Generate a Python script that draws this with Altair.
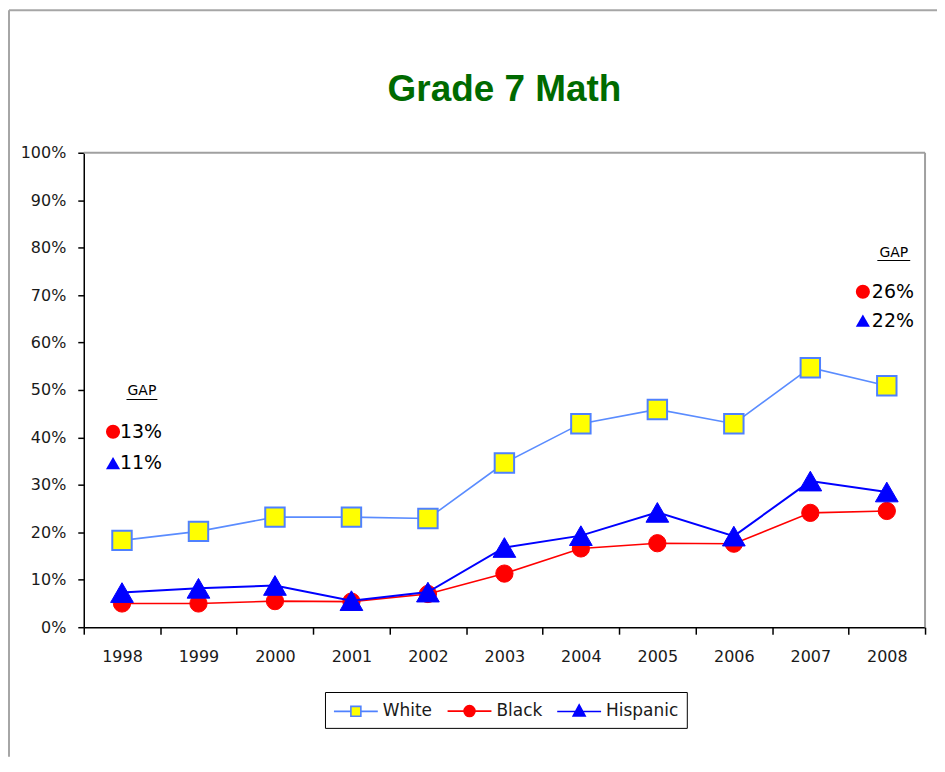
import altair as alt
import pandas as pd

# ---- data ----
years = ["1998", "1999", "2000", "2001", "2002", "2003", "2004", "2005", "2006", "2007", "2008"]
white = [18.3, 20.2, 23.2, 23.2, 22.9, 34.6, 42.9, 45.9, 42.9, 54.7, 50.9]
black = [5.0, 5.0, 5.5, 5.4, 7.0, 11.3, 16.6, 17.7, 17.6, 24.1, 24.5]
hispanic = [7.3, 8.2, 8.8, 5.6, 7.4, 16.8, 19.3, 24.2, 19.2, 30.8, 28.5]
series_names = ["White", "Black", "Hispanic"]
y_ticks = list(range(0, 101, 10))

# GAP annotations (text and the level, in % units, where each sits)
gap_years = ["1998", "2008"]
gap_black = ["13%", "26%"]
gap_hispanic = ["11%", "22%"]
gap_header_level = [49.7, 78.9]
gap_underline_level = [48.0, 77.3]
gap_black_level = [41.2, 70.7]
gap_hispanic_level = [34.6, 64.6]

# ---- styles ----
W, H = 844, 476
FONT = "DejaVu Sans"
line_color = {"White": "#5a8cff", "Black": "#ff0000", "Hispanic": "#0000ff"}
line_width = {"White": 1.6, "Black": 1.6, "Hispanic": 2.0}
marker_shape = {"White": "square", "Black": "circle", "Hispanic": "triangle-up"}
marker_size = {"White": 380, "Black": 300, "Hispanic": 520}
marker_fill = {"White": "#ffff00", "Black": "#ff0000", "Hispanic": "#0000ff"}
marker_stroke = {"White": "#4f81ff", "Black": "#ff0000", "Hispanic": "#0000ff"}
legend_paths = [
    "M-2.2,0H-0.5M0.5,0H2.2M-0.5,-0.5H0.5V0.5H-0.5Z",
    "M-2.2,0H2.2M-0.55,0A0.55,0.55 0 1,0 0.55,0A0.55,0.55 0 1,0 -0.55,0Z",
    "M-2.2,0H2.2M0,-0.65L0.6,0.45L-0.6,0.45Z",
]

values = {"White": white, "Black": black, "Hispanic": hispanic}
df = pd.DataFrame(
    [{"year": y, "series": s, "value": v} for s in series_names for y, v in zip(years, values[s])]
)

x_enc = alt.X(
    "year:N",
    sort=years,
    scale=alt.Scale(type="band", domain=years, paddingInner=0, paddingOuter=0),
    axis=alt.Axis(
        title=None, labelAngle=0, tickBand="extent", tickSize=7, tickColor="black",
        domainColor="black", domainWidth=1.5, tickWidth=1.5, grid=False,
        labelFont=FONT, labelFontSize=16, labelColor="#1a1a1a", labelPadding=14,
    ),
)
y_enc = alt.Y(
    "value:Q",
    scale=alt.Scale(domain=[0, 100], nice=False),
    axis=alt.Axis(
        title=None, values=y_ticks, labelExpr="datum.value + '%'", tickSize=6,
        tickColor="black", domainColor="black", domainWidth=1.5, tickWidth=1.5,
        grid=False, labelFont=FONT, labelFontSize=16, labelColor="#1a1a1a", labelPadding=12,
    ),
)

one = pd.DataFrame({"k": [0]})
layers = []

# plot-area border (top and right) in grey
layers.append(alt.Chart(one).mark_rule(color="#a0a0a0", strokeWidth=2).encode(
    x=alt.value(0), x2=alt.value(W), y=alt.value(0)))
layers.append(alt.Chart(one).mark_rule(color="#a0a0a0", strokeWidth=2).encode(
    x=alt.value(W), y=alt.value(0), y2=alt.value(H)))
# outer chart frame (top and left)
layers.append(alt.Chart(one).mark_rule(color="#a6a6a6", strokeWidth=2).encode(
    x=alt.value(-75), x2=alt.value(W + 12), y=alt.value(-143)))
layers.append(alt.Chart(one).mark_rule(color="#a6a6a6", strokeWidth=2).encode(
    x=alt.value(-75), y=alt.value(-143), y2=alt.value(H + 130)))

for s in series_names:
    sub = df[df["series"] == s]
    layers.append(alt.Chart(sub).mark_line(color=line_color[s], strokeWidth=line_width[s]).encode(
        x=x_enc, y=y_enc))
    layers.append(alt.Chart(sub).mark_point(
        shape=marker_shape[s], size=marker_size[s], filled=True, fill=marker_fill[s],
        stroke=marker_stroke[s], strokeWidth=2 if s == "White" else 1, opacity=1,
    ).encode(x=x_enc, y=y_enc))

# GAP annotations
side_offsets = [
    {"dot": -9, "text": -2, "head": 20, "line_len": 31},
    {"dot": -24, "text": -15, "head": 7, "line_len": 33},
]
for i, yr in enumerate(gap_years):
    off = side_offsets[i]
    head = pd.DataFrame({"year": [yr], "value": [gap_header_level[i]], "label": ["GAP"]})
    uline = pd.DataFrame({"year": [yr], "value": [gap_underline_level[i]]})
    bdot = pd.DataFrame({"year": [yr], "value": [gap_black_level[i]], "label": [gap_black[i]]})
    hdot = pd.DataFrame({"year": [yr], "value": [gap_hispanic_level[i]], "label": [gap_hispanic[i]]})
    layers.append(alt.Chart(head).mark_text(
        font=FONT, fontSize=14, color="black", align="center", baseline="middle", dx=off["head"],
    ).encode(x=x_enc, y=y_enc, text="label:N"))
    layers.append(alt.Chart(uline).mark_tick(
        orient="horizontal", size=off["line_len"], thickness=1, color="black", opacity=1,
        xOffset=off["head"],
    ).encode(x=x_enc, y=y_enc))
    layers.append(alt.Chart(bdot).mark_point(
        shape="circle", size=200, filled=True, color="#ff0000", opacity=1, xOffset=off["dot"],
    ).encode(x=x_enc, y=y_enc))
    layers.append(alt.Chart(hdot).mark_point(
        shape="triangle-up", size=200, filled=True, color="#0000ff", opacity=1, xOffset=off["dot"],
    ).encode(x=x_enc, y=y_enc))
    for d in (bdot, hdot):
        layers.append(alt.Chart(d).mark_text(
            font=FONT, fontSize=19, color="black", align="left", baseline="middle", dx=off["text"],
        ).encode(x=x_enc, y=y_enc, text="label:N"))

# legend (symbols drawn only in the legend; the carrier point is clipped away)
legend_df = pd.DataFrame({"series": series_names})
leg = alt.Legend(
    title=None, orient="none", legendX=242, legendY=541, direction="horizontal",
    strokeColor="black", fillColor="white", padding=8, cornerRadius=0,
    symbolSize=400, symbolStrokeWidth=1.6, symbolOpacity=1, labelFont=FONT, labelFontSize=17,
    labelColor="#1a1a1a", labelOffset=16, columnPadding=11, symbolOffset=12,
)
layers.append(alt.Chart(legend_df).mark_point(clip=True, filled=True, opacity=1).encode(
    x=alt.value(-500), y=alt.value(-500),
    shape=alt.Shape("series:N", sort=series_names,
                    scale=alt.Scale(domain=series_names, range=legend_paths), legend=leg),
    stroke=alt.Stroke("series:N", sort=series_names,
                      scale=alt.Scale(domain=series_names,
                                      range=[marker_stroke[s] for s in series_names]), legend=leg),
    fill=alt.Fill("series:N", sort=series_names,
                  scale=alt.Scale(domain=series_names,
                                  range=[marker_fill[s] for s in series_names]), legend=leg),
))

chart = alt.layer(*layers).properties(
    width=W, height=H,
    title=alt.Title("Grade 7 Math", font="Liberation Sans", fontSize=37, fontWeight="bold",
                    color="#006a00", anchor="middle", frame="group", baseline="alphabetic",
                    offset=0, dy=129),
    padding={"left": 76, "top": 144, "right": 12, "bottom": 130},
    autosize=alt.AutoSizeParams(type="none"),
).configure_view(stroke=None)

chart.save("out.html", embed_options={"renderer": "svg", "actions": False})
